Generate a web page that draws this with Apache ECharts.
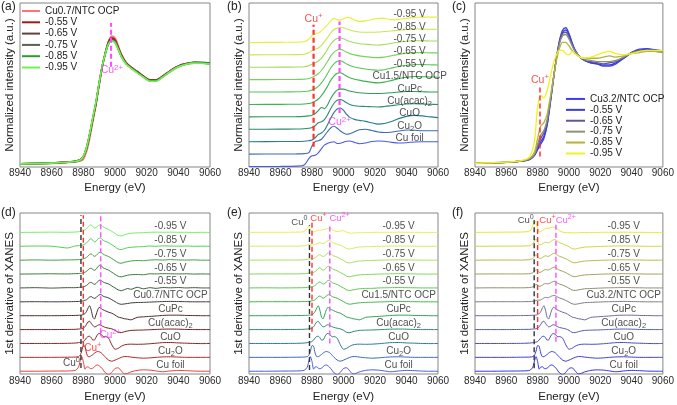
<!DOCTYPE html>
<html><head><meta charset="utf-8">
<script src="https://cdn.jsdelivr.net/npm/echarts@6/dist/echarts.min.js"></script>
<style>html,body{margin:0;padding:0;background:#fff}#c{width:677px;height:405px}</style>
</head><body><div id="c"></div><script>
// ---------- energy grids ----------
const EX = [8940,8960,8970,8975,8978,8980,8982,8984,8986,8988,8990,8992,8994,8996,8998,9000,9002,9004,9007,9010,9014,9018,9022,9026,9030,9035,9040,9045,9050,9055,9060];
const ED = [8940,8950,8960,8970,8975,8977,8978,8979,8980,8981,8982,8983,8984,8985,8986,8987,8988,8989,8990,8991,8992,8993,8994,8996,8998,9000,9002,9004,9006,9008,9010,9014,9018,9022,9026,9030,9035,9040,9045,9050,9055,9060];
const X_TICKS = [8940,8960,8980,9000,9020,9040,9060];

// ---------- (a) Cu0.7/NTC XANES ----------
const A_NAMES = ['Cu0.7/NTC OCP','-0.55 V','-0.65 V','-0.75 V','-0.85 V','-0.95 V'];
const A_OCP = [0,0.006,0.014,0.02,0.03,0.05,0.13,0.27,0.45,0.63,0.84,1.04,1.2,1.32,1.37,1.35,1.27,1.18,1.09,1.04,0.99,0.94,0.9,0.9,0.94,1.0,1.05,1.075,1.085,1.083,1.075];
const A_055 = [0,0.008,0.018,0.025,0.04,0.075,0.165,0.31,0.48,0.65,0.86,1.05,1.2,1.31,1.35,1.33,1.25,1.17,1.08,1.04,0.99,0.94,0.9,0.9,0.94,1.0,1.05,1.075,1.085,1.083,1.075];
const A_065 = [0,0.01,0.02,0.028,0.045,0.08,0.17,0.315,0.485,0.655,0.86,1.05,1.19,1.3,1.33,1.32,1.24,1.16,1.08,1.03,0.985,0.935,0.895,0.895,0.935,0.995,1.045,1.07,1.085,1.083,1.075];
const A_075 = [0,0.01,0.02,0.028,0.045,0.08,0.17,0.315,0.485,0.655,0.86,1.05,1.19,1.29,1.32,1.31,1.24,1.16,1.08,1.03,0.985,0.935,0.895,0.895,0.935,0.995,1.045,1.07,1.09,1.088,1.08];
const A_085 = [0,0.008,0.018,0.026,0.042,0.078,0.17,0.32,0.49,0.66,0.865,1.05,1.19,1.29,1.32,1.3,1.23,1.15,1.07,1.03,0.98,0.93,0.89,0.89,0.93,0.99,1.04,1.07,1.08,1.08,1.072];
const A_095 = [0,0.008,0.018,0.026,0.042,0.08,0.175,0.325,0.5,0.67,0.87,1.055,1.19,1.29,1.32,1.3,1.23,1.15,1.07,1.025,0.975,0.93,0.885,0.885,0.93,0.99,1.04,1.068,1.08,1.078,1.07];
const A_COLORS = ['#ff7474','#a31c1c','#5e4343','#55634f','#2c9c2c','#74ef52'];

// ---------- reference XANES (b) ----------
const REF_LABELS = ['Cu foil','Cu{sub|2}O','CuO','Cu(acac){sub|2}','CuPc'];
const X_FOIL = [0,0.005,0.015,0.06,0.32,0.43,0.45,0.55,0.72,0.87,0.94,0.98,1.0,0.93,0.94,0.98,1.02,1.03,0.97,0.92,0.95,1.01,1.03,1.02,0.98,0.95,0.96,0.99,1.0,1.0,1.0];
const X_CU2O = [0,0.005,0.01,0.02,0.06,0.33,0.5,0.54,0.6,0.75,0.92,1.06,1.12,1.04,0.93,0.85,0.8,0.82,0.9,0.98,1.0,0.95,0.89,0.87,0.88,0.93,0.97,0.96,0.94,0.94,0.94];
const X_CUO = [0,0.005,0.01,0.02,0.04,0.07,0.16,0.29,0.35,0.47,0.7,0.96,1.18,1.32,1.36,1.26,1.1,0.98,0.9,0.86,0.82,0.76,0.71,0.73,0.8,0.93,1.02,1.06,1.04,1.0,0.97];
const X_ACAC = [0,0.005,0.01,0.02,0.04,0.07,0.14,0.26,0.3,0.4,0.6,0.85,1.05,1.17,1.2,1.15,1.07,1.0,0.95,0.93,0.92,0.91,0.9,0.92,0.95,0.99,1.02,1.03,1.02,1.01,1.0];
const X_CUPC = [0,0.005,0.01,0.02,0.04,0.07,0.13,0.25,0.38,0.33,0.5,0.75,0.95,1.08,1.12,1.12,1.08,1.04,1.0,0.97,0.95,0.94,0.94,0.95,0.97,1.0,1.02,1.02,1.01,1.0,1.0];
// (b) Cu1.5/NTC samples
const B_LABELS = ['Cu1.5/NTC OCP','-0.55 V','-0.65 V','-0.75 V','-0.85 V','-0.95 V'];
const B_OCP = [0,0.005,0.01,0.02,0.04,0.07,0.13,0.22,0.36,0.54,0.75,0.98,1.15,1.26,1.28,1.22,1.14,1.08,1.02,0.98,0.93,0.89,0.87,0.9,0.96,1.04,1.1,1.13,1.12,1.11,1.1];
const B_055 = [0,0.005,0.01,0.02,0.04,0.08,0.14,0.23,0.37,0.55,0.76,0.98,1.14,1.24,1.26,1.21,1.13,1.07,1.01,0.97,0.93,0.9,0.88,0.9,0.96,1.03,1.08,1.11,1.11,1.1,1.09];
const B_065 = [0,0.005,0.01,0.02,0.05,0.1,0.16,0.24,0.37,0.55,0.75,0.96,1.11,1.2,1.22,1.18,1.11,1.05,1.0,0.96,0.93,0.9,0.89,0.91,0.96,1.02,1.07,1.09,1.09,1.08,1.08];
const B_075 = [0,0.005,0.01,0.02,0.06,0.12,0.18,0.25,0.37,0.54,0.74,0.94,1.08,1.16,1.18,1.15,1.09,1.04,0.99,0.95,0.93,0.91,0.9,0.92,0.96,1.01,1.05,1.07,1.07,1.06,1.06];
const B_085 = [0,0.005,0.01,0.025,0.08,0.17,0.23,0.28,0.38,0.53,0.71,0.89,1.02,1.08,1.1,1.09,1.05,1.0,0.95,0.92,0.91,0.91,0.92,0.94,0.96,0.99,1.02,1.04,1.04,1.03,1.03];
const B_095 = [0,0.005,0.01,0.03,0.13,0.28,0.34,0.38,0.46,0.6,0.72,0.88,0.97,0.92,0.9,0.96,1.01,1.0,0.9,0.85,0.87,0.92,0.97,0.97,0.92,0.93,0.97,1.0,1.02,1.02,1.02];
// colours bottom -> top (Cu foil ... -0.95 V)
const B_COLORS = ['#4a5ae6','#3a6eb4','#2a7e86','#2a8c6e','#2e9e5a','#3cb450','#58c658','#7ad25e','#a2dc5e','#c8e652','#e6f03c'];

// ---------- (c) Cu3.2/NTC XANES ----------
const C_NAMES = ['Cu3.2/NTC OCP','-0.55 V','-0.65 V','-0.75 V','-0.85 V','-0.95 V'];
const C_OCP = [0,0.008,0.02,0.035,0.07,0.12,0.17,0.22,0.33,0.52,0.73,0.93,1.09,1.18,1.2,1.15,1.07,1.0,0.94,0.91,0.89,0.88,0.86,0.86,0.88,0.93,0.98,1.01,1.015,1.005,0.995];
const C_055 = [0,0.008,0.02,0.035,0.07,0.13,0.19,0.24,0.34,0.53,0.74,0.93,1.08,1.16,1.18,1.14,1.06,1.0,0.94,0.91,0.89,0.88,0.87,0.87,0.89,0.93,0.98,1.0,1.01,1.0,0.99];
const C_065 = [0,0.008,0.02,0.037,0.075,0.15,0.22,0.27,0.36,0.54,0.74,0.93,1.07,1.15,1.16,1.12,1.05,0.99,0.94,0.91,0.9,0.89,0.88,0.89,0.9,0.94,0.98,1.0,1.0,0.99,0.985];
const C_075 = [0,0.009,0.021,0.04,0.08,0.17,0.25,0.29,0.38,0.55,0.74,0.92,1.06,1.13,1.14,1.1,1.04,0.99,0.94,0.92,0.91,0.9,0.9,0.9,0.91,0.94,0.98,0.99,0.995,0.99,0.985];
const C_085 = [0,0.009,0.022,0.045,0.1,0.22,0.33,0.36,0.43,0.58,0.75,0.91,1.02,1.07,1.07,1.04,1.0,0.97,0.94,0.93,0.93,0.93,0.94,0.95,0.94,0.95,0.97,0.98,0.99,0.99,0.985];
const C_095 = [0,0.01,0.025,0.06,0.2,0.5,0.6,0.58,0.64,0.76,0.88,0.96,1.0,1.0,0.97,0.96,0.99,0.97,0.94,0.93,0.94,0.96,0.98,0.99,0.97,0.96,0.97,0.99,1.0,1.0,1.0];
const C_COLORS = ['#3c3cff','#3c3cd2','#5c5c92','#8f8f7c','#b2b23e','#f2f21e'];

// ---------- 1st derivative references ----------
const D_FOIL = [0,0,0.01,0.02,0.06,0.3,0.75,1.05,0.7,0.15,0.3,0.32,0.22,0.18,0.22,0.32,0.42,0.45,0.4,0.3,0.18,0.02,-0.12,-0.25,-0.08,0.2,0.25,0.02,-0.2,-0.15,-0.05,0.06,0.1,0.08,0.02,-0.04,0.02,0.06,0.04,0.01,0,0];
const D_CU2O = [0,0,0,0.01,0.02,0.05,0.15,0.45,0.85,0.8,0.3,0.05,0.05,0.12,0.2,0.3,0.38,0.42,0.4,0.35,0.25,0.12,0,-0.2,-0.28,-0.2,-0.1,0,0.06,0.05,0.02,-0.03,-0.06,-0.04,0,0.03,0.04,0.02,0,0,0,0];
const D_CUO = [0,0,0,0.01,0.03,0.06,0.08,0.1,0.14,0.25,0.4,0.5,0.52,0.42,0.25,0.25,0.45,0.65,0.72,0.68,0.55,0.48,0.5,0.38,-0.1,-0.42,-0.35,-0.2,-0.1,-0.06,-0.05,-0.06,-0.05,-0.02,0.02,0.06,0.07,0.04,0.02,0,-0.01,0];
const D_ACAC = [0,0,0,0.01,0.02,0.04,0.05,0.07,0.1,0.2,0.38,0.55,0.6,0.45,0.3,0.2,0.22,0.3,0.35,0.32,0.25,0.2,0.15,0.1,0.05,-0.05,-0.2,-0.22,-0.15,-0.1,-0.06,-0.04,-0.03,-0.01,0.01,0.03,0.04,0.03,0.01,0,0,0];
const D_CUPC = [0,0,0,0.01,0.02,0.03,0.04,0.05,0.08,0.15,0.3,0.55,0.72,0.4,-0.1,-0.24,0.05,0.4,0.6,0.55,0.45,0.4,0.35,0.25,0.18,0.05,-0.1,-0.15,-0.22,-0.25,-0.3,-0.12,-0.08,-0.05,-0.02,0.02,0.04,0.04,0.02,0.01,0,0];
// (d) Cu0.7/NTC derivative
const D_LABELS = ['Cu0.7/NTC OCP','-0.55 V','-0.65 V','-0.75 V','-0.85 V','-0.95 V'];
const D_OCP = [0,0.01,0,0.01,0.02,0.03,0.04,0.05,0.07,0.1,0.15,0.25,0.35,0.38,0.3,0.25,0.3,0.42,0.5,0.53,0.45,0.38,0.35,0.28,0.15,0.02,-0.12,-0.18,-0.15,-0.12,-0.08,-0.05,-0.04,-0.02,0,0.02,0.03,0.02,0.01,0,0,0];
const D_055 = [0,0.02,-0.01,0.02,0.02,0.04,0.05,0.06,0.08,0.12,0.18,0.28,0.38,0.4,0.32,0.26,0.32,0.45,0.55,0.56,0.47,0.4,0.36,0.28,0.14,0,-0.14,-0.2,-0.12,-0.04,-0.1,0.05,-0.06,0.02,-0.03,0.03,0.01,0.03,0,0.02,0,0];
const D_065 = [0,0.01,0.02,0.01,0.03,0.04,0.05,0.06,0.09,0.13,0.2,0.3,0.4,0.42,0.33,0.27,0.34,0.5,0.62,0.64,0.5,0.42,0.37,0.28,0.13,-0.02,-0.16,-0.2,-0.14,-0.08,-0.05,-0.03,-0.05,0.02,0.01,0.03,0.02,0.01,0.02,0,0.01,0];
const D_075 = [0,0.02,0,0.02,0.03,0.04,0.05,0.07,0.1,0.14,0.2,0.3,0.42,0.45,0.35,0.28,0.33,0.45,0.55,0.58,0.48,0.4,0.35,0.26,0.12,-0.03,-0.18,-0.22,-0.15,-0.1,-0.06,-0.02,-0.04,0.01,0.03,0.01,0.04,0.02,0.01,0.02,0,0];
const D_085 = [0,0.02,0.01,-0.12,0.03,0.05,0.06,0.08,0.11,0.16,0.24,0.36,0.5,0.55,0.42,0.32,0.36,0.5,0.58,0.6,0.48,0.4,0.35,0.26,0.12,-0.04,-0.2,-0.24,-0.16,-0.1,-0.07,-0.04,-0.02,0.02,0,0.03,0.02,0.01,0.02,0,0.01,0];
const D_095 = [0,0.01,0.02,0.01,0.03,0.05,0.07,0.09,0.12,0.18,0.27,0.4,0.52,0.55,0.42,0.32,0.35,0.45,0.52,0.55,0.45,0.38,0.32,0.22,0.08,-0.08,-0.22,-0.25,-0.17,-0.1,-0.06,-0.03,-0.02,0.01,0.02,0.01,0.02,0.01,0.01,0,0.01,0];
const D_COLORS = ['#ee3a3a','#b42222','#8c2020','#6c2020','#4c2a2a','#3c3a3a','#3a5a3a','#3a7a3a','#40a040','#50d050','#72f062'];
// (e) Cu1.5/NTC derivative
const E_LABELS = ['Cu1.5/NTC OCP','-0.55 V','-0.65 V','-0.75 V','-0.85 V','-0.95 V'];
const E_OCP = [0,0.01,0.01,0.01,0.02,0.03,0.04,0.05,0.07,0.1,0.16,0.26,0.38,0.42,0.34,0.26,0.3,0.42,0.5,0.52,0.44,0.37,0.33,0.26,0.14,0.02,-0.12,-0.17,-0.14,-0.1,-0.07,-0.04,-0.03,-0.01,0,0.02,0.03,0.02,0.01,0,0,0];
const E_055 = [0,0.01,0,0.01,0.02,0.04,0.05,0.06,0.08,0.12,0.18,0.28,0.4,0.44,0.36,0.28,0.3,0.42,0.52,0.55,0.46,0.38,0.33,0.25,0.12,0,-0.14,-0.18,-0.14,-0.1,-0.06,-0.03,-0.03,0,0.01,0.02,0.03,0.02,0.01,0,0,0];
const E_065 = [0,0.01,0.01,0.01,0.03,0.05,0.07,0.08,0.09,0.12,0.18,0.28,0.4,0.45,0.36,0.28,0.32,0.45,0.55,0.56,0.46,0.38,0.32,0.24,0.11,-0.01,-0.15,-0.19,-0.14,-0.1,-0.06,-0.03,-0.02,0,0.01,0.02,0.03,0.02,0.01,0,0,0];
const E_075 = [0,0.01,0.01,0.01,0.03,0.06,0.09,0.1,0.1,0.12,0.17,0.26,0.36,0.4,0.33,0.27,0.3,0.42,0.5,0.53,0.44,0.36,0.3,0.22,0.1,-0.02,-0.16,-0.2,-0.15,-0.1,-0.06,-0.03,-0.02,0,0.01,0.02,0.03,0.02,0.01,0,0,0];
const E_085 = [0,0.01,0.01,0.01,0.04,0.1,0.15,0.14,0.1,0.1,0.13,0.18,0.22,0.24,0.22,0.2,0.24,0.32,0.4,0.43,0.36,0.28,0.22,0.15,0.08,-0.03,-0.17,-0.2,-0.14,-0.09,-0.05,-0.03,-0.02,0,0.01,0.02,0.02,0.02,0.01,0,0,0];
const E_095 = [0,0.01,0.01,0.02,0.06,0.3,0.45,0.25,0.06,0.05,0.08,0.12,0.15,0.17,0.18,0.2,0.22,0.25,0.28,0.31,0.28,0.2,0.12,0.06,0.1,0.12,0.02,-0.05,-0.05,-0.03,-0.02,-0.01,0,0.01,0.01,0.01,0.02,0.01,0.01,0,0,0];
const E_COLORS = ['#4858e0','#3868b8','#287c88','#288c6c','#30a058','#40b848','#5cc850','#80d858','#a8e060','#d0ec60','#e8f050'];
// (f) Cu3.2/NTC derivative
const F_LABELS = ['Cu3.2/NTC OCP','-0.55 V','-0.65 V','-0.75 V','-0.85 V','-0.95 V'];
const F_OCP = [0,0.01,0.01,0.01,0.02,0.04,0.06,0.09,0.12,0.12,0.14,0.2,0.28,0.32,0.3,0.3,0.36,0.42,0.45,0.46,0.4,0.33,0.28,0.2,0.1,-0.02,-0.14,-0.18,-0.14,-0.1,-0.06,-0.04,-0.02,0,0.01,0.02,0.03,0.02,0.01,0,0,0];
const F_055 = [0,0.01,0.01,0.01,0.03,0.08,0.16,0.25,0.2,0.12,0.14,0.2,0.28,0.32,0.3,0.3,0.35,0.42,0.46,0.48,0.4,0.33,0.28,0.2,0.1,-0.02,-0.15,-0.18,-0.14,-0.1,-0.06,-0.04,-0.02,0,0.01,0.02,0.03,0.02,0.01,0,0,0];
const F_065 = [0,0.01,0.01,0.01,0.03,0.1,0.22,0.33,0.24,0.12,0.14,0.2,0.28,0.33,0.3,0.3,0.35,0.43,0.48,0.5,0.42,0.34,0.28,0.2,0.1,-0.02,-0.15,-0.19,-0.14,-0.1,-0.06,-0.04,-0.02,0,0.01,0.02,0.03,0.02,0.01,0,0,0];
const F_075 = [0,0.01,0.01,0.01,0.04,0.13,0.28,0.4,0.28,0.12,0.13,0.19,0.27,0.32,0.29,0.28,0.33,0.42,0.48,0.5,0.42,0.34,0.28,0.2,0.1,-0.02,-0.15,-0.19,-0.14,-0.1,-0.06,-0.04,-0.02,0,0.01,0.02,0.03,0.02,0.01,0,0,0];
const F_085 = [0,0.01,0.01,0.02,0.05,0.2,0.4,0.53,0.35,0.12,0.12,0.18,0.25,0.3,0.27,0.26,0.3,0.4,0.46,0.5,0.42,0.33,0.26,0.18,0.08,-0.03,-0.16,-0.2,-0.14,-0.1,-0.06,-0.04,-0.02,0,0.01,0.02,0.03,0.02,0.01,0,0,0];
const F_095 = [0,0.01,0.02,0.03,0.1,0.5,0.86,0.7,0.3,0.05,0.05,0.12,0.22,0.28,0.3,0.3,0.32,0.36,0.38,0.38,0.32,0.22,0.12,0.02,-0.02,-0.02,-0.03,-0.03,-0.02,-0.01,-0.01,0,0,0.01,0.01,0.01,0.02,0.01,0.01,0,0,0];
const F_COLORS = ['#3030f0','#3a3ae0','#4848c8','#5858b0','#6a6a98','#7e7e84','#8e8e6c','#a0a05a','#b8b84c','#d4d440','#e8e830'];

// stacking offsets (bottom -> top)
const OFFS_B = [0,0.5,1,1.5,2,2.5,3,3.5,4,4.5,5];
const OFFS_D = [0,1,2,3,4,5,6,7,8,9,10];

// dashed guide lines: [energy, from, to, kind]
const LINES = {
  a:[[8997.5,1.04,1.51,'m']],
  b:[[8981,0.8,5.71,'r'],[8997.5,2.16,5.84,'m']],
  c:[[8981.5,0.06,0.69,'r']],
  d:[[8978.5,0.23,11.24,'k'],[8980,1.76,11.24,'r'],[8991,2.73,11.4,'m']],
  e:[[8978.4,0.09,10.52,'k'],[8980,2.84,10.88,'r'],[8991.3,2.0,10.64,'m']],
  f:[[8977.8,0.21,10.88,'k'],[8980,2.97,10.88,'r'],[8991.7,2.12,10.76,'m']]
};
// oxidation-state labels: [energy, y, kind]
const MARKS = {
  a:[[8998,1.0,'m']],
  b:[[8981,5.94,'r'],[8997.5,1.77,'m']],
  c:[[8981.5,0.74,'r']],
  d:[[8972.5,0.57,'k'],[8986,1.65,'r'],[8997,2.6,'m']],
  e:[[8972,10.76,'k'],[8984.1,11.02,'r'],[8997.5,11.02,'m']],
  f:[[8972.4,10.88,'k'],[8986.3,10.88,'r'],[8998,10.88,'m']]
};
const MARK_FS = {a:10.5, b:10.5, c:10.5, d:10, e:9.5, f:9.5};
const MARK_TEXT = {k:'Cu{sup|0}', r:'Cu{sup|+}', m:'Cu{sup|2+}'};

// ---------- layout / style ----------
const FONT = '"Liberation Sans", Arial, Helvetica, sans-serif';
const GUIDE_COL = {k:'#333333', r:'#ff3030', m:'#ff4cff'};
const TEXT_COL = {k:'#222222', r:'#ff2020', m:'#ff30ff'};
const GRIDS = [
  {left:20, top:3, width:190, height:164},
  {left:249, top:3, width:189, height:164},
  {left:475, top:3, width:189, height:164},
  {left:20, top:213, width:190, height:161},
  {left:249, top:213, width:189, height:161},
  {left:475, top:213, width:189, height:161}
];
const YR = [[-0.033,1.724],[-0.02,6.59],[-0.033,1.419],[-0.2,11.4],[-0.2,11.4],[-0.2,11.4]];
const YNAMES = ['Normalized intensity (a.u.)','Normalized intensity (a.u.)','Normalized intensity (a.u.)','1st derivative of XANES','1st derivative of XANES','1st derivative of XANES'];

function rich(color, fs){
  return {
    sup:{fontSize:fs*0.75, color, fontFamily:FONT, lineHeight:8, verticalAlign:'top'},
    sub:{fontSize:fs*0.75, color, fontFamily:FONT, lineHeight:8, verticalAlign:'bottom'}
  };
}

const series = [];
function curve(gi, name, xs, ys, color, width, off, smooth){
  series.push({type:'line', name, xAxisIndex:gi, yAxisIndex:gi, symbol:'none', smooth:smooth,
    data: xs.map((x,i)=>[x, ys[i] + off]), lineStyle:{color, width}, itemStyle:{color},
    silent:true, animation:false, z:2});
}
function textSeries(gi, items, color, fs){
  series.push({type:'scatter', xAxisIndex:gi, yAxisIndex:gi, symbolSize:1, silent:true, animation:false, z:6,
    itemStyle:{color:'rgba(0,0,0,0)'},
    label:{show:true, position:'inside', color, fontSize:fs, fontFamily:FONT, lineHeight:14, rich:rich(color,fs)},
    data: items.map(it=>({value:[it[0], it[1]], label:{formatter:it[2]}}))});
}
function guides(gi, key, width){
  LINES[key].forEach(l=>{
    series.push({type:'line', xAxisIndex:gi, yAxisIndex:gi, symbol:'none', silent:true, animation:false, z:4,
      data:[[l[0], l[1]],[l[0], l[2]]], lineStyle:{color:GUIDE_COL[l[3]], width, type:[5,3]}});
  });
  MARKS[key].forEach(m=>{
    textSeries(gi, [[m[0], m[1], MARK_TEXT[m[2]]]], TEXT_COL[m[2]], MARK_FS[key]);
  });
}

// (a)
[A_OCP,A_055,A_065,A_075,A_085,A_095].forEach((ys,i)=>curve(0,'a|'+A_NAMES[i],EX,ys,A_COLORS[i],1.6,0,0.3));
guides(0,'a',2);
// (b)
const B_SET = [X_FOIL,X_CU2O,X_CUO,X_ACAC,X_CUPC,B_OCP,B_055,B_065,B_075,B_085,B_095];
B_SET.forEach((ys,i)=>curve(1,'b'+i,EX,ys,B_COLORS[i],1.1,OFFS_B[i],0.3));
textSeries(1, REF_LABELS.concat(B_LABELS).map((t,i)=>[9042, OFFS_B[i]+1.13, t]), '#222', 10);
guides(1,'b',2.2);
// (c)
[C_OCP,C_055,C_065,C_075,C_085,C_095].forEach((ys,i)=>curve(2,'c|'+C_NAMES[i],EX,ys,C_COLORS[i],1.3,0,0.3));
guides(2,'c',1.5);
// (d)(e)(f)
const DREF = [D_FOIL,D_CU2O,D_CUO,D_ACAC,D_CUPC];
[[3,[D_OCP,D_055,D_065,D_075,D_085,D_095],D_COLORS,D_LABELS,'d'],
 [4,[E_OCP,E_055,E_065,E_075,E_085,E_095],E_COLORS,E_LABELS,'e'],
 [5,[F_OCP,F_055,F_065,F_075,F_085,F_095],F_COLORS,F_LABELS,'f']].forEach(p=>{
  const set = DREF.concat(p[1]);
  set.forEach((ys,i)=>curve(p[0],p[4]+i,ED,ys,p[2][i],1.0,OFFS_D[i],0.2));
  textSeries(p[0], REF_LABELS.concat(p[3]).map((t,i)=>[9035, OFFS_D[i]+0.45, t]), '#222', 10);
  guides(p[0],p[4],1.4);
});

const option = {
  animation:false,
  backgroundColor:'#fff',
  textStyle:{fontFamily:FONT},
  title:[['(a)',1,1],['(b)',227,1],['(c)',452,1],['(d)',1,207],['(e)',227,207],['(f)',452,207]].map(t=>({
    text:t[0], left:t[1], top:t[2], padding:0, textStyle:{fontSize:12, fontWeight:'normal', color:'#222', fontFamily:FONT}})),
  grid: GRIDS.map(g=>Object.assign({show:true, borderColor:'#858585', borderWidth:1, backgroundColor:'transparent', containLabel:false}, g)),
  xAxis: GRIDS.map((g,i)=>({type:'value', gridIndex:i, min:X_TICKS[0], max:X_TICKS[X_TICKS.length-1], interval:X_TICKS[1]-X_TICKS[0],
    axisLine:{show:false}, axisTick:{show:false}, splitLine:{show:false},
    axisLabel:{fontSize:10, color:'#2a2a2a', margin:i<3?1.5:2.5, fontFamily:FONT, formatter:v=>String(v)},
    name:'Energy (eV)', nameLocation:'middle', nameGap:i<3?15:17,
    nameTextStyle:{fontSize:11.5, color:'#222', fontFamily:FONT}})),
  yAxis: GRIDS.map((g,i)=>({type:'value', gridIndex:i, min:YR[i][0], max:YR[i][1],
    axisLine:{show:false}, axisTick:{show:false}, axisLabel:{show:false}, splitLine:{show:false},
    name:YNAMES[i], nameLocation:'middle', nameGap:4,
    nameTextStyle:{fontSize:11.5, color:'#222', fontFamily:FONT}})),
  legend:[
    {data:A_NAMES.map(n=>'a|'+n), orient:'vertical', left:22, top:5.5, icon:'rect', itemWidth:18, itemHeight:2, itemGap:0.3,
      selectedMode:false, formatter:n=>n.split('|')[1],
      textStyle:{fontSize:10, lineHeight:11, color:'#222', fontFamily:FONT}, padding:0},
    {data:C_NAMES.map(n=>'c|'+n), orient:'vertical', left:566, top:93.5, icon:'rect', itemWidth:19, itemHeight:2, itemGap:0,
      selectedMode:false, formatter:n=>n.split('|')[1],
      textStyle:{fontSize:10, lineHeight:10.9, color:'#222', fontFamily:FONT}, padding:0}
  ],
  series
};
const chart = echarts.init(document.getElementById('c'), null, {renderer:'canvas'});
chart.setOption(option);
</script></body></html>
